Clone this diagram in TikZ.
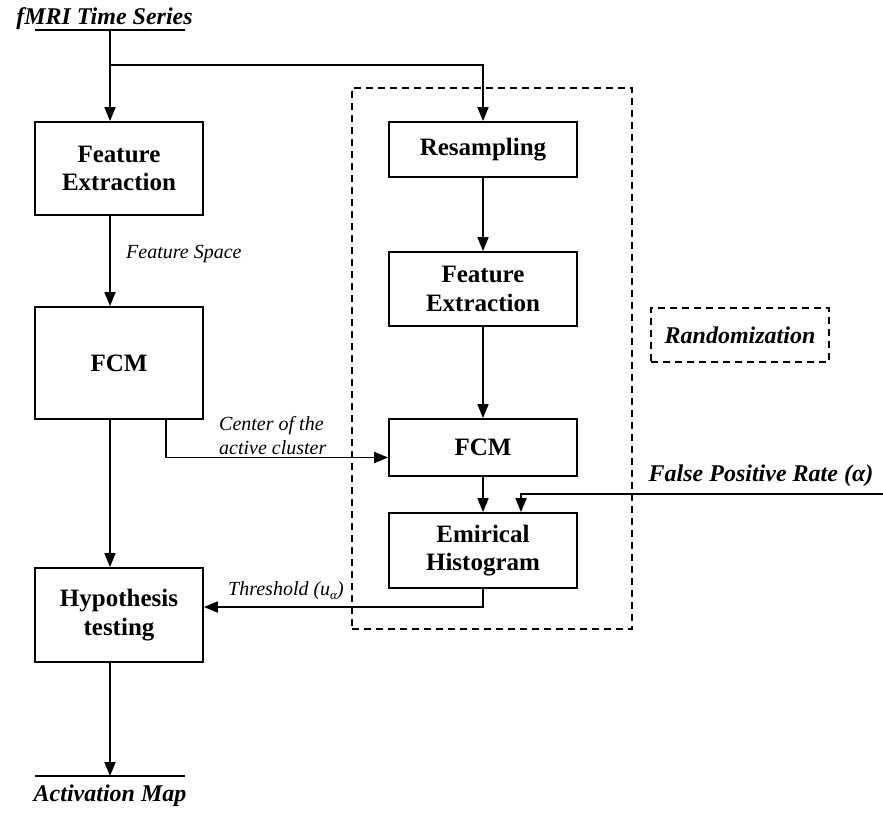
\documentclass[tikz,border=0pt]{standalone}
\usepackage{fontspec}
\setmainfont{Liberation Serif}
\usetikzlibrary{arrows.meta,calc}
\tikzset{
  box/.style={draw, line width=1.8pt, align=center, inner sep=0pt,
    font=\fontsize{25}{28.5}\selectfont\bfseries},
  arr/.style={line width=1.7pt, -{Triangle[length=14pt,width=11pt]}},
  ln/.style={line width=1.7pt},
  lbl/.style={font=\fontsize{20}{24}\selectfont\itshape, inner sep=0pt, align=left},
  ttl/.style={font=\fontsize{24}{28}\selectfont\bfseries\itshape, inner sep=0pt},
  dbox/.style={draw, line width=1.6pt, dash pattern=on 7pt off 5pt}
}
\begin{document}
\begin{tikzpicture}[x=1pt,y=-1pt]
\useasboundingbox (0,0) rectangle (883,812);
% boxes left
\node[box, minimum width=168pt, minimum height=93pt] (fe1) at (119,168.5) {Feature\\Extraction};
\node[box, minimum width=168pt, minimum height=112pt] (fcm1) at (119,363) {FCM};
\node[box, minimum width=168pt, minimum height=94pt] (hyp) at (119,615) {Hypothesis\\testing};
% boxes right
\node[box, minimum width=188pt, minimum height=55pt] (res) at (483,149.5) {Resampling};
\node[box, minimum width=188pt, minimum height=74pt] (fe2) at (483,289) {Feature\\Extraction};
\node[box, minimum width=188pt, minimum height=57pt] (fcm2) at (483,447.5) {FCM};
\node[box, minimum width=188pt, minimum height=75pt] (hist) at (483,550.5) {Emirical\\Histogram};
% dashed boxes
\node[dbox, minimum width=280pt, minimum height=541pt, inner sep=0pt] (rbox) at (492,358.5) {};
\node[dbox, ttl, minimum width=178pt, minimum height=54pt] (rand) at (740,335) {Randomization};
% titles
\node[ttl] (title) at (104.5,19) {fMRI Time Series};
\node[ttl] (act) at (110,796) {Activation Map};
\node[ttl, anchor=south] (fprt) at (761,487) {False Positive Rate (α)};
\coordinate (tl1) at (35,30);
\coordinate (tl2) at (185,30);
\coordinate (tsplit) at (110,30);
\coordinate (split) at (110,65);
\coordinate (al1) at (35,776);
\coordinate (al2) at (185,776);
\coordinate (amid) at (110,776);
\coordinate (fpr) at (883,494);
% labels
\node[lbl, anchor=west] (fsl) at (126,254) {Feature Space};
\node[lbl, anchor=south west] (cal) at (219,455) {Center of the\\active cluster};
\node[lbl, anchor=south west] (thl) at (228,600) {Threshold (u\raisebox{-4pt}{\fontsize{13}{13}\selectfont α})};
% lines
\draw[ln] (tl1) -- (tl2);
\draw[ln] (al1) -- (al2);
\draw[ln] (tsplit) -- (split);
\draw[arr] (split) -- (split |- fe1.north);
\draw[arr] (split) -| (res.north);
\draw[arr] ([xshift=-9pt]fe1.south) -- ([xshift=-9pt]fcm1.north);
\draw[arr] ([xshift=-9pt]fcm1.south) -- ([xshift=-9pt]hyp.north);
\draw[arr] ([xshift=-9pt]hyp.south) -- (amid);
\draw[arr] (res.south) -- (fe2.north);
\draw[arr] (fe2.south) -- (fcm2.north);
\draw[arr] (fcm2.south) -- (hist.north);
\draw[arr] ([xshift=47pt]fcm1.south) |- ([yshift=-10pt]fcm2.west);
\draw[arr] (fpr) -| ([xshift=38pt]hist.north);
\draw[arr] (hist.south) |- ([yshift=8pt]hyp.east);
\end{tikzpicture}
\end{document}
